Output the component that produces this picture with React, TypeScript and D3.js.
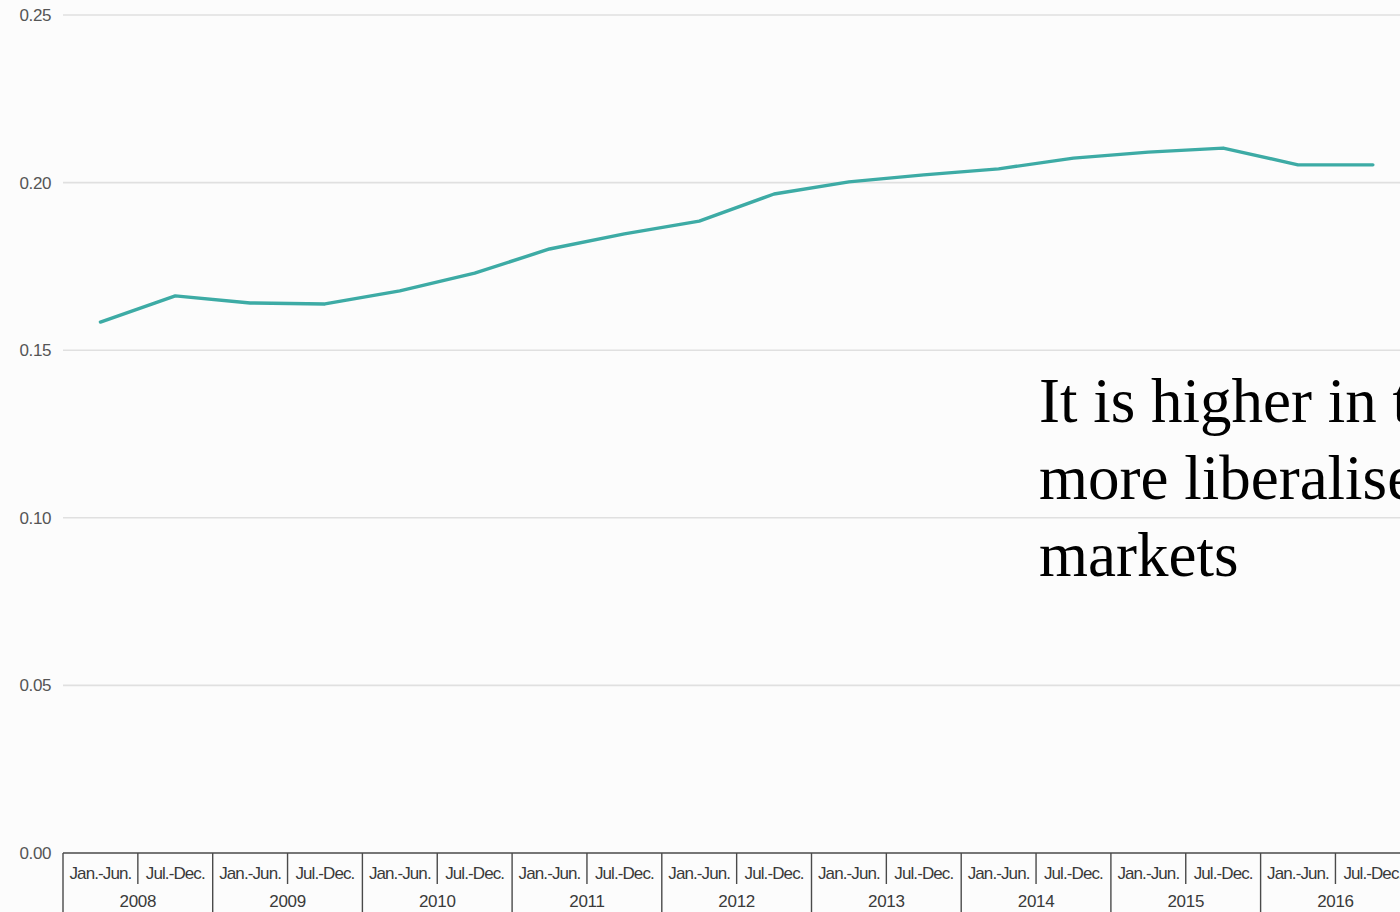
import React, { useEffect, useRef } from "react";
import * as d3 from "d3";

const years = ["2008", "2009", "2010", "2011", "2012", "2013", "2014", "2015", "2016"];
const halves = ["Jan.-Jun.", "Jul.-Dec."];
const values = [
  0.1584, 0.1662, 0.1641, 0.1638, 0.1677, 0.173, 0.1802, 0.1847, 0.1885,
  0.1966, 0.2002, 0.2023, 0.2041, 0.2073, 0.2091, 0.2103, 0.2053, 0.2053,
];
const yTicks = [0, 0.05, 0.1, 0.15, 0.2, 0.25];
const noteLines = ["It is higher in the", "more liberalised", "markets"];

export default function App() {
  const ref = useRef<SVGSVGElement>(null);
  useEffect(() => {
    const svg = d3.select(ref.current);
    svg.selectAll("*").remove();
    const W = 1400, H = 912;
    const left = 63, top = 15, bottom = 853;
    const cats = years.flatMap((y) => halves.map((h) => `${y}|${h}`));
    const x = d3.scaleBand<string>().domain(cats).range([left, left + 74.85 * 18]).padding(0);
    const y = d3.scaleLinear().domain([0, 0.25]).range([bottom, top]);

    svg.append("rect").attr("width", W).attr("height", H).attr("fill", "#fcfcfc");

    // gridlines
    svg.append("g").selectAll("line").data(yTicks.filter((t) => t > 0)).join("line")
      .attr("x1", left).attr("x2", W)
      .attr("y1", (d) => y(d)).attr("y2", (d) => y(d))
      .attr("stroke", "#e0e0e0").attr("stroke-width", 1.6);

    // y labels
    svg.append("g").selectAll("text").data(yTicks).join("text")
      .attr("x", 51).attr("y", (d) => y(d)).attr("dy", "0.35em")
      .attr("text-anchor", "end")
      .attr("font-family", "Liberation Sans, Arial, sans-serif")
      .attr("font-size", 17).attr("fill", "#555").attr("letter-spacing", -0.4)
      .text((d) => d3.format(".2f")(d));

    // x axis frame
    const ax = svg.append("g").attr("stroke", "#4a4a4a").attr("stroke-width", 1.4);
    ax.append("line").attr("x1", left).attr("x2", W).attr("y1", bottom).attr("y2", bottom);
    cats.forEach((c, i) => {
      const xx = x(c)!;
      const isYear = i % 2 === 0;
      ax.append("line").attr("x1", xx).attr("x2", xx)
        .attr("y1", bottom).attr("y2", isYear ? H : 884);
    });
    ax.append("line").attr("x1", x(cats[17])! + x.bandwidth()).attr("x2", x(cats[17])! + x.bandwidth())
      .attr("y1", bottom).attr("y2", H);

    const lab = svg.append("g")
      .attr("font-family", "Liberation Sans, Arial, sans-serif")
      .attr("fill", "#3a3a3a").attr("text-anchor", "middle");
    cats.forEach((c) => {
      const h = c.split("|")[1];
      lab.append("text").attr("x", x(c)! + x.bandwidth() / 2).attr("y", 879)
        .attr("font-size", 17).attr("letter-spacing", -0.9).text(h);
    });
    years.forEach((yr) => {
      const xx = x(`${yr}|${halves[0]}`)! + x.bandwidth();
      lab.append("text").attr("x", xx).attr("y", 907)
        .attr("font-size", 17).attr("letter-spacing", -0.3).text(yr);
    });

    // line
    const line = d3.line<number>()
      .x((_, i) => x(cats[i])! + x.bandwidth() / 2)
      .y((d) => y(d));
    svg.append("path").datum(values).attr("d", line)
      .attr("fill", "none").attr("stroke", "#3daba5").attr("stroke-width", 3.4)
      .attr("stroke-linejoin", "round").attr("stroke-linecap", "round");

    // note
    const note = svg.append("text")
      .attr("font-family", "Liberation Serif, Times New Roman, serif")
      .attr("font-size", 63).attr("fill", "#000");
    noteLines.forEach((t, i) => {
      note.append("tspan").attr("x", 1039).attr("y", 422 + i * 77).text(t);
    });
  }, []);
  return (
    <svg ref={ref} width={1400} height={912}
      style={{ position: "absolute", left: 0, top: 0, overflow: "hidden" }} />
  );
}
